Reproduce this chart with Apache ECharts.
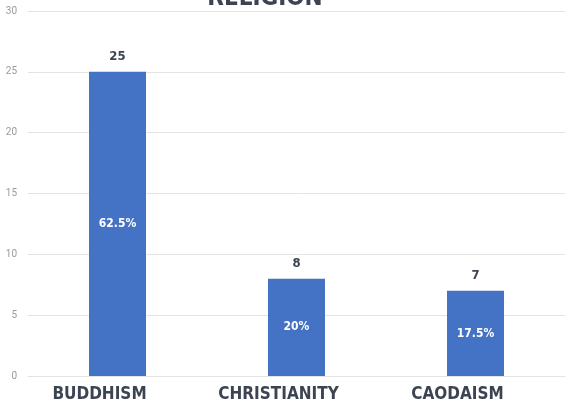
<!DOCTYPE html>
<html>
<head>
<meta charset="utf-8">
<script src="https://cdn.jsdelivr.net/npm/echarts@6/dist/echarts.min.js"></script>
<style>
  html, body { margin: 0; padding: 0; background: #fff; }
  #chart { width: 571px; height: 408px; }
</style>
</head>
<body>
<div id="chart"></div>
<script>
const categories = ['BUDDHISM', 'CHRISTIANITY', 'CAODAISM']
const counts = [25, 8, 7]
const shares = ['62.5%', '20%', '17.5%']
const yTicks = [0, 5, 10, 15, 20, 25, 30]

const barColor = '#4472C4'
const textColor = '#3c4452'
const font = 'DejaVu Sans Condensed'

const myChart = echarts.init(document.getElementById('chart'))
const option = {
  animation: false,
  title: {
    text: 'RELIGION',
    left: 260,
    top: -18,
    textAlign: 'center',
    textStyle: { fontFamily: font, fontWeight: 'bold', fontSize: 24, color: textColor }
  },
  grid: { left: 28, right: 6, top: 11, bottom: 32 },
  xAxis: {
    type: 'category',
    data: categories,
    axisTick: { show: false },
    axisLine: { lineStyle: { color: '#e3e3e3' } },
    axisLabel: {
      interval: 0,
      color: textColor,
      fontFamily: font,
      fontWeight: 'bold',
      fontSize: 17,
      margin: 10,
      padding: [0, 36, 0, 0]
    }
  },
  yAxis: {
    type: 'value',
    min: yTicks[0],
    max: yTicks[yTicks.length - 1],
    interval: 5,
    axisLabel: { color: '#9a9a9a', fontSize: 10, margin: 11, fontFamily: 'Roboto' },
    axisLine: { show: false },
    splitLine: { lineStyle: { color: '#e3e3e3' } }
  },
  series: [{
    // 数量
    type: 'bar',
    data: counts,
    barWidth: 57,
    itemStyle: { color: barColor },
    label: {
      show: true,
      position: 'top',
      distance: 9,
      color: textColor,
      fontFamily: font,
      fontWeight: 'bold',
      fontSize: 13
    }
  }, {
    // 百分比, overlay only for the inner label
    type: 'bar',
    data: counts,
    barWidth: 57,
    barGap: '-100%',
    itemStyle: { color: 'transparent' },
    label: {
      show: true,
      position: 'inside',
      color: '#fff',
      fontFamily: font,
      fontWeight: 'bold',
      fontSize: 12,
      formatter(params) {
        return shares[params.dataIndex]
      }
    }
  }]
}
myChart.setOption(option)
</script>
</body>
</html>
